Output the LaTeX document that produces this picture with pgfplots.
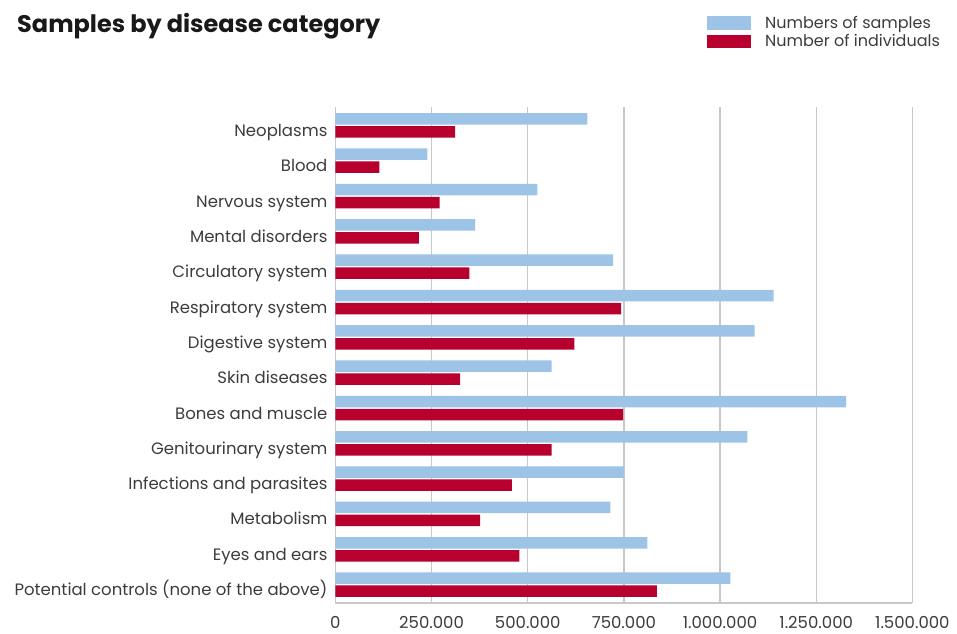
\documentclass[border=0pt]{standalone}
\usepackage{pgfplots}
\pgfplotsset{compat=1.18}
\usepackage{fontspec}
\setmainfont{Poppins}
\definecolor{barblue}{HTML}{9DC3E6}
\definecolor{barred}{HTML}{B8002E}
\definecolor{gridgray}{HTML}{C8C8C8}
\definecolor{txtgray}{HTML}{3C3C3C}
\begin{document}
\begin{tikzpicture}[x=1pt,y=1pt]
\path[use as bounding box] (0,0) rectangle (957,633);
\node[anchor=west, inner sep=0pt, font=\fontsize{24}{28}\selectfont\bfseries, text=black!90] at (17,607) {Samples by disease category};
\begin{axis}[
  at={(335.4pt,30pt)}, anchor=south west,
  scale only axis, width=577pt, height=496pt,
  xbar, bar width=11.5pt,
  xmin=0, xmax=1500000, ymin=-0.52, ymax=13.52, y dir=reverse,
  axis x line=bottom, axis y line=left,
  axis line style={gridgray, line width=1.2pt, -},
  xtick={0,250000,500000,750000,1000000,1250000,1500000},
  xticklabels={0,250.000,500.000,750.000,1.000.000,1.250.000,1.500.000},
  scaled x ticks=false,
  xmajorgrids, grid style={gridgray, line width=1.4pt},
  major tick length=0pt,
  xticklabel style={font=\fontsize{16.5}{18}\selectfont, text=txtgray, yshift=-10pt},
  ytick={0,1,...,13},
  yticklabels={Neoplasms,Blood,Nervous system,Mental disorders,Circulatory system,Respiratory system,Digestive system,Skin diseases,Bones and muscle,Genitourinary system,Infections and parasites,Metabolism,Eyes and ears,Potential controls (none of the above)},
  yticklabel style={font=\fontsize{16.5}{18}\selectfont, text=txtgray, text height=0.72em, text depth=0.22em, yshift=-8.5pt, xshift=-4.5pt},
  legend style={at={(axis description cs:0.644,1.186)}, anchor=north west, draw=none, fill=none,
    font=\fontsize{16}{18}\selectfont, text=txtgray, inner sep=0pt, row sep=3pt,
    nodes={inner sep=1pt}, /tikz/every odd column/.append style={column sep=13pt}},
  legend cell align=left,
  legend image code/.code={\fill[#1] (0pt,-6.8pt) rectangle (44pt,6.8pt);},
]
\addplot[fill=barblue, draw=none, bar shift=6.5pt] coordinates {
(655000,0) (239000,1) (525000,2) (363000,3) (722000,4) (1139000,5) (1090000,6)
(562000,7) (1328000,8) (1071000,9) (749000,10) (715000,11) (811000,12) (1027000,13)};
\addlegendentry{Numbers of samples}
\addplot[fill=barred, draw=none, bar shift=-6.5pt] coordinates {
(311000,0) (114000,1) (271000,2) (217000,3) (348000,4) (743000,5) (621000,6)
(324000,7) (748000,8) (562000,9) (459000,10) (376000,11) (478000,12) (836000,13)};
\addlegendentry{Number of individuals}
\end{axis}
\end{tikzpicture}
\end{document}
